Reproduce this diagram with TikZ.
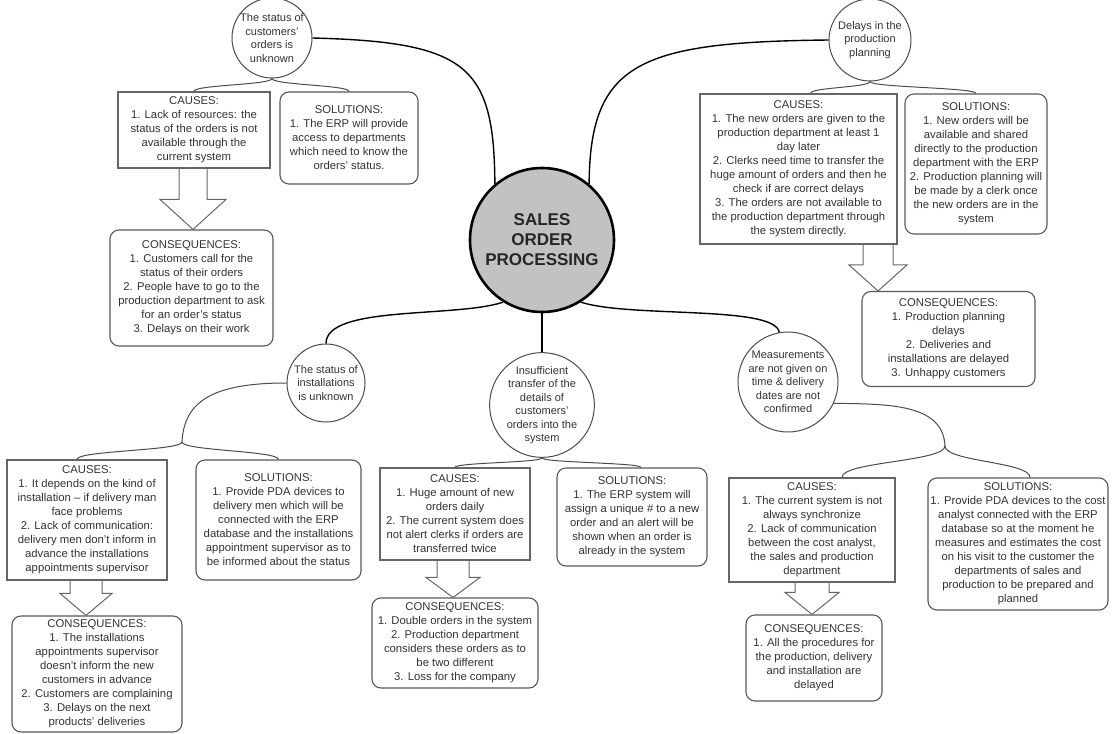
\documentclass[tikz,border=0pt]{standalone}
\usepackage{fontspec}
\setmainfont{Liberation Sans}
\usetikzlibrary{calc}
\tikzset{
  txt/.style={font=\fontsize{11.3}{14}\selectfont, align=center, text=black!80},
  ctxt/.style={font=\fontsize{11}{13.5}\selectfont, align=center, text=black!80},
  cbox/.style={txt, draw=black!60, line width=1.4pt, rectangle, inner sep=2pt},
  sbox/.style={txt, draw=black!65, line width=1.1pt, rounded corners=9pt, inner sep=2pt},
  topic/.style={ctxt, circle, draw=black!70, line width=1pt, inner sep=0pt},
  hub/.style={circle, draw=black, line width=2.6pt, fill=black!24, inner sep=0pt,
     align=center, text=black!85, font=\bfseries\fontsize{17}{20}\selectfont},
  link/.style={draw=black, line width=1.4pt},
  brace/.style={draw=black!70, line width=1pt},
  barrow/.style={draw=black!60, line width=1pt, line join=miter},
}
\newcommand\bracepath[3]{%
  \draw[brace] let \p1=(#1), \p2=(#2), \p3=(#3) in
    (\p2) .. controls (\x2,{0.5*\y1+0.5*\y2}) and (\x1,{0.5*\y1+0.5*\y2}) .. (\p1)
          .. controls (\x1,{0.5*\y1+0.5*\y3}) and (\x3,{0.5*\y1+0.5*\y3}) .. (\p3);}
\newcommand\barr[6]{%
  \draw[barrow] let \p1=(#1), \p2=(#2), \p3=(#3,0) in
    (\x3-#4pt,\y1) -- (\x3-#4pt,\y2+#6pt) -- (\x3-#5pt,\y2+#6pt) -- (\x3,\y2)
    -- (\x3+#5pt,\y2+#6pt) -- (\x3+#4pt,\y2+#6pt) -- (\x3+#4pt,\y1);}
\begin{document}
\begin{tikzpicture}[x=1pt,y=-1pt]
\useasboundingbox (0,0) rectangle (1112,734);
\fill[white] (0,0) rectangle (1112,734);

% hub
\node[hub, minimum size=144pt] (s) at (542,240) {SALES\\ORDER\\PROCESSING};

% topic circles
\node[topic, minimum size=80pt] (c1) at (272,38) {The status of\\customers'\\orders is\\unknown};
\node[topic, minimum size=82pt] (c2) at (870,40) {Delays in the\\production\\planning};
\node[topic, minimum size=78pt] (c3) at (326,383) {The status of\\installations\\is unknown};
\node[topic, minimum size=96pt] (c4) at (542,405) {Insufficient\\transfer of the\\details of\\customers'\\orders into the\\system};
\node[topic, minimum size=96pt] (c5) at (788,382) {Measurements\\are not given on\\time \& delivery\\dates are not\\confirmed};

% group 1
\node[cbox, minimum width=152pt, minimum height=76pt] (cau1) at (194,130)
  {CAUSES:\\1. Lack of resources: the\\status of the orders is not\\available through the\\current system};
\node[sbox, minimum width=138pt, minimum height=92pt] (sol1) at (349,138)
  {SOLUTIONS:\\1. The ERP will provide\\access to departments\\which need to know the\\orders' status.};
\node[sbox, minimum width=163pt, minimum height=116pt] (con1) at (191.5,288)
  {CONSEQUENCES:\\1. Customers call for the\\status of their orders\\2. People have to go to the\\production department to ask\\for an order's status\\3. Delays on their work};

% group 2
\node[cbox, minimum width=197pt, minimum height=150pt] (cau2) at (798.5,169)
  {CAUSES:\\1. The new orders are given to the\\production department at least 1\\day later\\2. Clerks need time to transfer the\\huge amount of orders and then he\\check if are correct delays\\3. The orders are not available to\\the production department through\\the system directly.};
\node[sbox, minimum width=142pt, minimum height=140pt] (sol2) at (976,164)
  {SOLUTIONS:\\1. New orders will be\\available and shared\\directly to the production\\department with the ERP\\2. Production planning will\\be made by a clerk once\\the new orders are in the\\system};
\node[sbox, minimum width=173pt, minimum height=95pt] (con2) at (948.5,339)
  {CONSEQUENCES:\\1. Production planning\\delays\\2. Deliveries and\\installations are delayed\\3. Unhappy customers};

% group 3
\node[cbox, minimum width=160pt, minimum height=120pt] (cau3) at (87,520)
  {CAUSES:\\1. It depends on the kind of\\installation -- if delivery man\\face problems\\2. Lack of communication:\\delivery men don't inform in\\advance the installations\\appointments supervisor};
\node[sbox, minimum width=165pt, minimum height=120pt] (sol3) at (278.5,520)
  {SOLUTIONS:\\1. Provide PDA devices to\\delivery men which will be\\connected with the ERP\\database and the installations\\appointment supervisor as to\\be informed about the status};
\node[sbox, minimum width=170pt, minimum height=116pt] (con3) at (97,674)
  {CONSEQUENCES:\\1. The installations\\appointments supervisor\\doesn't inform the new\\customers in advance\\2. Customers are complaining\\3. Delays on the next\\products' deliveries};

% group 4
\node[cbox, minimum width=150pt, minimum height=92pt] (cau4) at (455,514)
  {CAUSES:\\1. Huge amount of new\\orders daily\\2. The current system does\\not alert clerks if orders are\\transferred twice};
\node[sbox, minimum width=150pt, minimum height=98pt] (sol4) at (632,517)
  {SOLUTIONS:\\1. The ERP system will\\assign a unique \# to a new\\order and an alert will be\\shown when an order is\\already in the system};
\node[sbox, minimum width=166pt, minimum height=90pt] (con4) at (455,643)
  {CONSEQUENCES:\\1. Double orders in the system\\2. Production department\\considers these orders as to\\be two different\\3. Loss for the company};

% group 5
\node[cbox, minimum width=166pt, minimum height=104pt] (cau5) at (812,530)
  {CAUSES:\\1. The current system is not\\always synchronize\\2. Lack of communication\\between the cost analyst,\\the sales and production\\department};
\node[sbox, minimum width=180pt, minimum height=132pt] (sol5) at (1018,544)
  {SOLUTIONS:\\1. Provide PDA devices to the cost\\analyst connected with the ERP\\database so at the moment he\\measures and estimates the cost\\on his visit to the customer the\\departments of sales and\\production to be prepared and\\planned};
\node[sbox, minimum width=136pt, minimum height=86pt] (con5) at (814,658)
  {CONSEQUENCES:\\1. All the procedures for\\the production, delivery\\and installation are\\delayed};

% links from hub
\draw[link] (c1.east) .. controls (468,42) and (494,66) .. (s.130);
\draw[link] (s.50) .. controls (590,62) and (640,42) .. (c2.west);
\draw[link] (s.-122) .. controls (455,318) and (326,305) .. (c3.north);
\draw[link] (s.south) -- (c4.north);
\draw[link] (s.-58) .. controls (630,318) and (775,305) .. (c5.100);

% tips of branches
\coordinate (t3) at (182,442);
\coordinate (t5) at (945,446);
\draw[brace] (c3.west) .. controls (215,383) and (184,400) .. (t3);
\draw[brace] (c5.-25) .. controls (890,404) and (943,404) .. (t5);

% braces
\bracepath{c1.south}{cau1.north}{sol1.north}
\bracepath{c2.south}{$(cau2.north)+(12,0)$}{sol2.north}
\bracepath{t3}{$(cau3.north)+(-10,0)$}{sol3.north}
\bracepath{c4.south}{cau4.north}{$(sol4.north)+(9,0)$}
\bracepath{t5}{$(cau5.north)+(30,0)$}{$(sol5.north)+(12,0)$}

% block arrows
\barr{cau1.south}{con1.north}{193}{14}{33}{30}
\barr{cau2.south}{con2.north}{878}{15}{29}{26}
\barr{cau3.south}{con3.north}{86}{16}{26}{22}
\barr{cau4.south}{con4.north}{453}{16}{27}{20}
\barr{cau5.south}{con5.north}{812}{17}{27}{22}
\end{tikzpicture}
\end{document}
